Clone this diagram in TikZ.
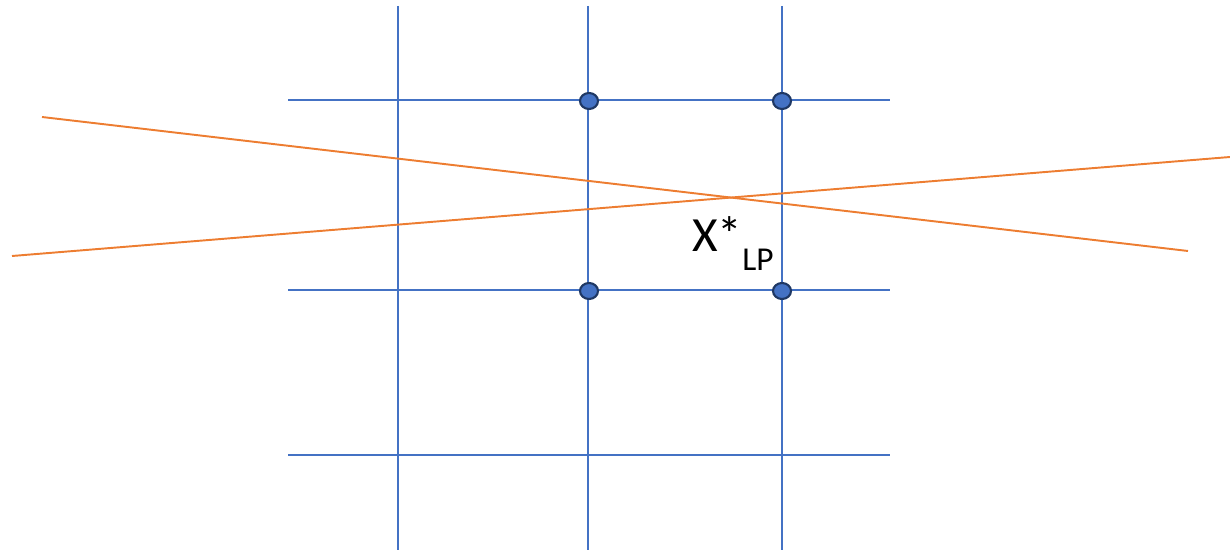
\documentclass[tikz,border=0pt]{standalone}
\usepackage{fontspec}
\setmainfont{Carlito}
\usetikzlibrary{positioning}
\definecolor{GridBlue}{HTML}{4472C4}
\definecolor{DotRim}{HTML}{1F3864}
\definecolor{CutOrange}{HTML}{ED7D31}
\tikzset{
  gridline/.style={GridBlue,line width=1.1pt},
  cutline/.style={CutOrange,line width=1.1pt},
  intpt/.style={ellipse,draw=DotRim,fill=GridBlue,line width=1.2pt,minimum width=0.36cm,minimum height=0.32cm,inner sep=0pt}
}
\usetikzlibrary{shapes.geometric}
\begin{document}
\begin{tikzpicture}[x=0.02cm,y=-0.02cm]
  \useasboundingbox (0,0) rectangle (1230,550);
  % integer grid
  \foreach \x in {398,588,782}{
    \draw[gridline] (\x,6) -- (\x,550);
  }
  \foreach \y in {100,290,455}{
    \draw[gridline] (288,\y) -- (890,\y);
  }
  % two constraints
  \coordinate (c1a) at (42,117);
  \coordinate (c1b) at (1188,251);
  \coordinate (c2a) at (12,256);
  \coordinate (c2b) at (1230,157);
  \draw[cutline] (c1a) -- (c1b);
  \draw[cutline] (c2a) -- (c2b);
  % feasible integer points
  \foreach \n/\x/\y in {p1/589/101,p2/782/101,p3/589/291,p4/782/291}{
    \node[intpt] (\n) at (\x,\y) {};
  }
  \node[font=\fontsize{28}{30}\selectfont,anchor=base west,inner sep=0pt] (xstar) at (692,252) {X*};
  \node[font=\fontsize{19}{22}\selectfont,anchor=base west,inner sep=0pt] (lp) at (742,271) {LP};
\end{tikzpicture}
\end{document}
